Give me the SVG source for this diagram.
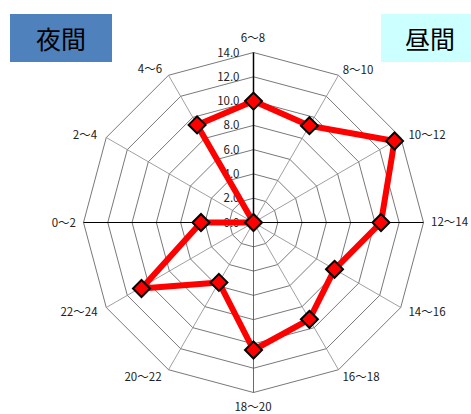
<svg xmlns="http://www.w3.org/2000/svg" width="471" height="414" viewBox="0 0 471 414">
<style>
.grid{fill:none;stroke:#555;stroke-width:0.8}
.spoke{stroke:#888;stroke-width:0.8}
.axis{stroke:#000;stroke-width:1}
.tick{font-family:"Noto Sans CJK JP","Liberation Sans",sans-serif;font-size:11.5px;fill:#222;text-anchor:end}
.cat{font-family:"Noto Sans CJK JP","Liberation Sans",sans-serif;font-size:11.5px;fill:#222}
.title{font-family:"Noto Sans CJK JP",sans-serif;font-size:25px;fill:#000;text-anchor:middle}
.series{fill:none;stroke:#ff0000;stroke-width:6;stroke-linejoin:round}
.mk{fill:#ff0000;stroke:#000;stroke-width:2}
</style>
<defs>
<polygon id="dia" class="mk" points="0,-8.5 8.5,0 0,8.5 -8.5,0"/>
</defs>
<g id="title-night"><rect x="10" y="14" width="102" height="48" fill="#4F81BD"/><text class="title" x="61" y="48.5">夜間</text></g>
<g id="title-day"><rect x="381" y="14" width="90" height="48" fill="#CCFFFF"/><text class="title" x="430" y="48.5">昼間</text></g>
<g id="chart" transform="translate(253.5,222.5)">
<g id="grid">
<polygon class="grid" points="0,-24.29 12.14,-21.03 21.03,-12.14 24.29,0 21.03,12.14 12.14,21.03 0,24.29 -12.14,21.03 -21.03,12.14 -24.29,0 -21.03,-12.14 -12.14,-21.03"/>
<polygon class="grid" points="0,-48.57 24.29,-42.06 42.06,-24.29 48.57,0 42.06,24.29 24.29,42.06 0,48.57 -24.29,42.06 -42.06,24.29 -48.57,0 -42.06,-24.29 -24.29,-42.06"/>
<polygon class="grid" points="0,-72.86 36.43,-63.1 63.1,-36.43 72.86,0 63.1,36.43 36.43,63.1 0,72.86 -36.43,63.1 -63.1,36.43 -72.86,0 -63.1,-36.43 -36.43,-63.1"/>
<polygon class="grid" points="0,-97.14 48.57,-84.13 84.13,-48.57 97.14,0 84.13,48.57 48.57,84.13 0,97.14 -48.57,84.13 -84.13,48.57 -97.14,0 -84.13,-48.57 -48.57,-84.13"/>
<polygon class="grid" points="0,-121.43 60.71,-105.16 105.16,-60.71 121.43,0 105.16,60.71 60.71,105.16 0,121.43 -60.71,105.16 -105.16,60.71 -121.43,0 -105.16,-60.71 -60.71,-105.16"/>
<polygon class="grid" points="0,-145.71 72.86,-126.19 126.19,-72.86 145.71,0 126.19,72.86 72.86,126.19 0,145.71 -72.86,126.19 -126.19,72.86 -145.71,0 -126.19,-72.86 -72.86,-126.19"/>
<polygon class="grid" points="0,-170 85,-147.22 147.22,-85 170,0 147.22,85 85,147.22 0,170 -85,147.22 -147.22,85 -170,0 -147.22,-85 -85,-147.22"/>
<line class="spoke" x1="0" y1="0" x2="85" y2="-147.22"/>
<line class="spoke" x1="0" y1="0" x2="147.22" y2="-85"/>
<line class="spoke" x1="0" y1="0" x2="147.22" y2="85"/>
<line class="spoke" x1="0" y1="0" x2="85" y2="147.22"/>
<line class="spoke" x1="0" y1="0" x2="-85" y2="147.22"/>
<line class="spoke" x1="0" y1="0" x2="-147.22" y2="85"/>
<line class="spoke" x1="0" y1="0" x2="-147.22" y2="-85"/>
<line class="spoke" x1="0" y1="0" x2="-85" y2="-147.22"/>
<line class="axis" x1="0" y1="0" x2="170" y2="0"/>
<line class="axis" x1="0" y1="0" x2="-170" y2="0"/>
<line class="spoke" x1="0" y1="0" x2="0" y2="170" style="stroke:#444"/>
<line class="axis" x1="0" y1="0" x2="0" y2="-170" style="stroke-width:1.5"/>
</g>
<g id="ticks">
<text class="tick" x="-14" y="4">0.0</text>
<text class="tick" x="-14" y="-20.29">2.0</text>
<text class="tick" x="-14" y="-44.57">4.0</text>
<text class="tick" x="-14" y="-68.86">6.0</text>
<text class="tick" x="-14" y="-93.14">8.0</text>
<text class="tick" x="-14" y="-117.43">10.0</text>
<text class="tick" x="-14" y="-141.71">12.0</text>
<text class="tick" x="-14" y="-166">14.0</text>
</g>
</g>
<g id="labels">
<text class="cat" x="253" y="42" text-anchor="middle">6～8</text>
<text class="cat" x="358" y="74" text-anchor="middle">8～10</text>
<text class="cat" x="427" y="139" text-anchor="middle">10～12</text>
<text class="cat" x="431" y="226">12～14</text>
<text class="cat" x="427" y="316" text-anchor="middle">14～16</text>
<text class="cat" x="361" y="381" text-anchor="middle">16～18</text>
<text class="cat" x="253" y="411" text-anchor="middle">18～20</text>
<text class="cat" x="143" y="381" text-anchor="middle">20～22</text>
<text class="cat" x="79" y="316" text-anchor="middle">22～24</text>
<text class="cat" x="76" y="227" text-anchor="end">0～2</text>
<text class="cat" x="85" y="139" text-anchor="middle">2～4</text>
<text class="cat" x="150" y="73" text-anchor="middle">4～6</text>
</g>
<g id="connectors" transform="translate(253.5,222.5)">
<polygon class="series" points="0,-121.4 55.9,-96.8 141,-81.5 127.5,0 81,46.8 55.9,96.8 0,127.5 -34.6,59.9 -112,66 -52.5,0 0,0 -56.4,-97.6"/>
</g>
<g id="markers" transform="translate(253.5,222.5)">
<use href="#dia" x="0" y="-121.4"/>
<use href="#dia" x="55.9" y="-96.8"/>
<use href="#dia" x="141" y="-81.5"/>
<use href="#dia" x="127.5" y="0"/>
<use href="#dia" x="81" y="46.8"/>
<use href="#dia" x="55.9" y="96.8"/>
<use href="#dia" x="0" y="127.5"/>
<use href="#dia" x="-34.6" y="59.9"/>
<use href="#dia" x="-112" y="66"/>
<use href="#dia" x="-52.5" y="0"/>
<use href="#dia" x="0" y="0"/>
<use href="#dia" x="-56.4" y="-97.6"/>
</g>
</svg>
